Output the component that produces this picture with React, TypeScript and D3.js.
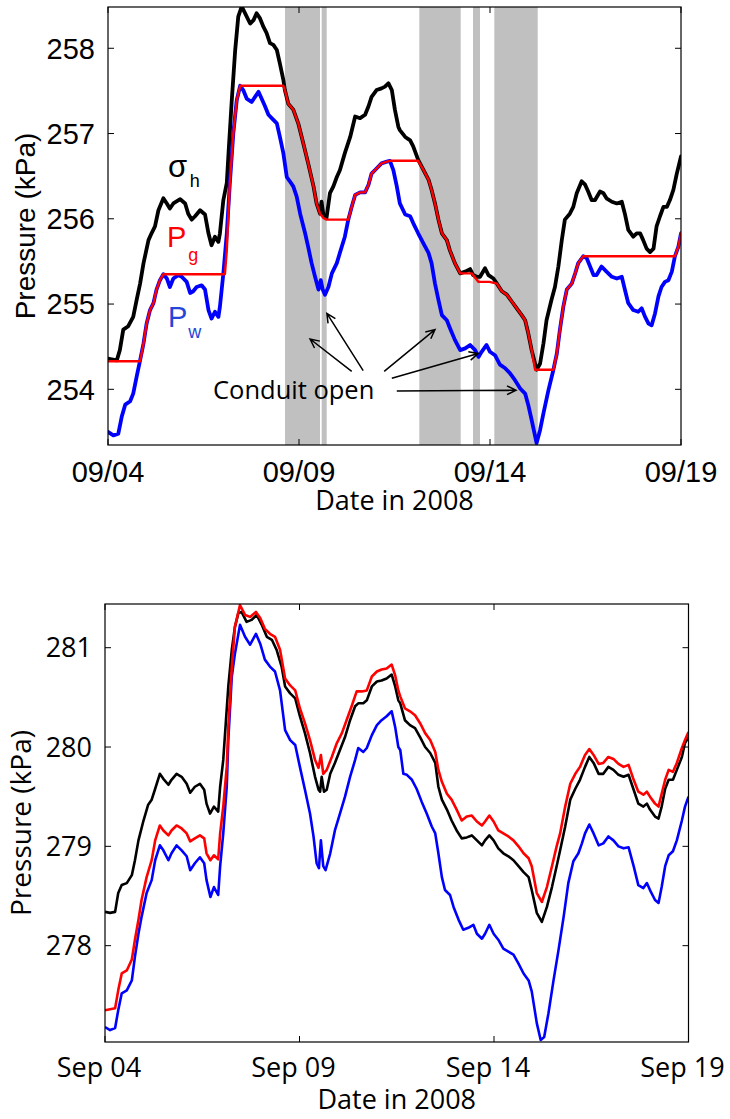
import React from 'react';
import * as d3 from 'd3';

// days since 2008-09-04 00:00, pressure in kPa
const dayTicks = [0, 5, 10, 15];
const topDayLabels = ['09/04', '09/09', '09/14', '09/19'];
const bottomDayLabels = ['Sep 04', 'Sep 09', 'Sep 14', 'Sep 19'];
const topPressureTicks = [254, 255, 256, 257, 258];
const bottomPressureTicks = [278, 279, 280, 281];

// shaded "conduit open" intervals (days)
const conduitOpen = [[4.634, 5.55], [5.594, 5.725], [8.15, 9.233], [9.555, 9.738], [10.113, 11.249]];

// top panel: sigma_h, P_w, P_g
const sigmaTop = [[0,254.36],[0.23,254.34],[0.31,254.46],[0.40,254.70],[0.53,254.74],[0.66,254.85],[0.75,255.05],[0.84,255.24],[0.93,255.48],[1.06,255.75],[1.14,255.83],[1.23,255.91],[1.32,256.10],[1.45,256.24],[1.54,256.18],[1.62,256.12],[1.71,256.18],[1.89,256.23],[2.02,256.18],[2.10,256.06],[2.19,255.99],[2.28,256.03],[2.41,256.10],[2.54,256.05],[2.63,255.83],[2.71,255.69],[2.80,255.79],[2.89,255.73],[2.93,255.83],[3.02,256.22],[3.11,256.42],[3.15,256.73],[3.24,257.39],[3.33,257.98],[3.41,258.37],[3.50,258.49],[3.59,258.41],[3.72,258.29],[3.81,258.33],[3.89,258.41],[3.98,258.35],[4.07,258.25],[4.15,258.18],[4.24,258.06],[4.33,258.04],[4.42,257.98],[4.50,257.82],[4.59,257.63],[4.63,257.51],[4.72,257.35],[4.85,257.28],[4.98,257.12],[5.11,256.89],[5.24,256.65],[5.38,256.38],[5.46,256.18],[5.55,256.06],[5.59,256.20],[5.64,256.04],[5.72,256.01],[5.81,256.30],[5.90,256.38],[5.99,256.49],[6.07,256.57],[6.20,256.77],[6.34,256.96],[6.47,257.20],[6.60,257.18],[6.73,257.22],[6.82,257.32],[6.90,257.43],[7.03,257.51],[7.16,257.53],[7.25,257.55],[7.34,257.59],[7.43,257.51],[7.51,257.28],[7.60,257.08],[7.64,257.04],[7.78,256.96],[7.91,256.92],[7.99,256.85],[8.12,256.69],[8.26,256.57],[8.39,256.46],[8.47,256.34],[8.56,256.18],[8.65,255.99],[8.74,255.83],[8.87,255.75],[8.95,255.63],[9.08,255.48],[9.22,255.36],[9.35,255.38],[9.48,255.41],[9.56,255.34],[9.65,255.32],[9.74,255.32],[9.87,255.42],[9.96,255.34],[10.09,255.30],[10.18,255.24],[10.31,255.15],[10.44,255.11],[10.57,255.03],[10.70,254.95],[10.83,254.87],[10.92,254.81],[11.00,254.66],[11.09,254.46],[11.22,254.23],[11.31,254.30],[11.40,254.54],[11.48,254.81],[11.61,255.05],[11.70,255.20],[11.79,255.44],[11.88,255.75],[11.96,255.99],[12.09,256.06],[12.18,256.14],[12.27,256.30],[12.40,256.44],[12.49,256.40],[12.57,256.32],[12.66,256.22],[12.75,256.22],[12.88,256.32],[12.97,256.30],[13.05,256.24],[13.19,256.20],[13.32,256.18],[13.45,256.20],[13.53,256.06],[13.62,255.87],[13.75,255.79],[13.84,255.83],[13.93,255.83],[14.01,255.75],[14.10,255.65],[14.19,255.61],[14.28,255.65],[14.36,255.91],[14.45,256.03],[14.54,256.14],[14.63,256.14],[14.71,256.22],[14.80,256.34],[14.89,256.53],[15.00,256.73]];

const waterTop = [[0,253.50],[0.14,253.46],[0.27,253.48],[0.36,253.68],[0.45,253.82],[0.58,253.86],[0.66,253.95],[0.75,254.15],[0.84,254.34],[0.93,254.54],[1.01,254.77],[1.10,254.93],[1.19,255.01],[1.27,255.17],[1.36,255.28],[1.45,255.35],[1.54,255.30],[1.62,255.20],[1.71,255.30],[1.84,255.34],[1.93,255.32],[2.06,255.26],[2.15,255.13],[2.23,255.15],[2.32,255.20],[2.45,255.22],[2.54,255.17],[2.63,254.93],[2.71,254.83],[2.80,254.91],[2.89,254.85],[2.93,254.97],[3.02,255.36],[3.11,255.83],[3.19,256.42],[3.28,257.00],[3.37,257.39],[3.46,257.56],[3.54,257.51],[3.63,257.41],[3.76,257.37],[3.85,257.43],[3.94,257.49],[4.02,257.41],[4.11,257.32],[4.20,257.22],[4.33,257.16],[4.42,257.12],[4.50,256.96],[4.59,256.77],[4.68,256.49],[4.76,256.44],[4.85,256.38],[4.94,256.26],[5.03,256.06],[5.16,255.83],[5.24,255.67],[5.33,255.48],[5.42,255.32],[5.51,255.17],[5.57,255.28],[5.62,255.17],[5.68,255.11],[5.77,255.20],[5.86,255.36],[5.99,255.48],[6.07,255.60],[6.20,255.79],[6.29,255.99],[6.38,256.14],[6.47,256.28],[6.60,256.31],[6.73,256.31],[6.82,256.40],[6.90,256.53],[7.03,256.59],[7.16,256.65],[7.30,256.67],[7.38,256.68],[7.47,256.57],[7.56,256.38],[7.64,256.18],[7.78,256.05],[7.91,256.03],[7.99,255.95],[8.12,255.83],[8.26,255.71],[8.39,255.60],[8.47,255.48],[8.56,255.24],[8.65,255.05],[8.74,254.87],[8.87,254.81],[8.95,254.72],[9.08,254.58],[9.22,254.46],[9.35,254.48],[9.48,254.52],[9.61,254.46],[9.70,254.38],[9.78,254.44],[9.91,254.52],[10.00,254.44],[10.13,254.40],[10.26,254.29],[10.39,254.25],[10.52,254.19],[10.65,254.11],[10.79,254.01],[10.92,253.95],[11.00,253.82],[11.09,253.64],[11.22,253.37],[11.31,253.52],[11.40,253.72],[11.53,253.99],[11.66,254.23],[11.75,254.42],[11.83,254.70],[11.92,254.97],[12.01,255.17],[12.14,255.24],[12.23,255.36],[12.31,255.48],[12.44,255.56],[12.53,255.54],[12.62,255.44],[12.71,255.34],[12.79,255.34],[12.92,255.44],[13.05,255.38],[13.19,255.32],[13.32,255.30],[13.45,255.32],[13.53,255.17],[13.62,255.01],[13.75,254.93],[13.88,254.91],[13.97,254.95],[14.06,254.85],[14.15,254.77],[14.23,254.75],[14.32,254.89],[14.41,255.09],[14.49,255.20],[14.58,255.26],[14.67,255.28],[14.76,255.38],[14.84,255.56],[14.93,255.67],[15.00,255.83]];

const gasTop = [[0,254.33],[0.84,254.33],[0.93,254.54],[1.01,254.77],[1.10,254.93],[1.19,255.01],[1.27,255.17],[1.36,255.28],[1.45,255.35],[3.06,255.35],[3.11,255.63],[3.19,256.42],[3.28,257.00],[3.37,257.39],[3.46,257.56],[4.59,257.56],[4.63,257.51],[4.72,257.35],[4.85,257.28],[4.98,257.12],[5.11,256.89],[5.24,256.65],[5.38,256.38],[5.46,256.18],[5.55,256.06],[5.64,256.01],[5.72,255.99],[6.29,255.99],[6.38,256.14],[6.47,256.28],[6.60,256.31],[6.73,256.31],[6.82,256.40],[6.90,256.53],[7.03,256.59],[7.16,256.65],[7.30,256.67],[7.38,256.68],[8.12,256.68],[8.26,256.57],[8.39,256.46],[8.47,256.34],[8.56,256.18],[8.65,255.99],[8.74,255.83],[8.87,255.75],[8.95,255.63],[9.08,255.48],[9.22,255.36],[9.52,255.36],[9.70,255.26],[9.99,255.26],[10.18,255.24],[10.31,255.15],[10.44,255.11],[10.57,255.03],[10.70,254.95],[10.83,254.87],[10.92,254.81],[11.00,254.66],[11.09,254.46],[11.18,254.23],[11.66,254.23],[11.75,254.42],[11.83,254.70],[11.92,254.97],[12.01,255.17],[12.14,255.24],[12.23,255.36],[12.31,255.48],[12.44,255.56],[14.84,255.56],[14.93,255.67],[15.00,255.83]];

// bottom panel
const sigmaBottom = [[0,278.34],[0.13,278.33],[0.26,278.34],[0.34,278.53],[0.43,278.61],[0.56,278.63],[0.69,278.71],[0.77,278.86],[0.86,279.06],[0.99,279.26],[1.11,279.42],[1.20,279.47],[1.29,279.58],[1.41,279.73],[1.50,279.68],[1.63,279.62],[1.71,279.67],[1.84,279.73],[1.97,279.70],[2.10,279.63],[2.19,279.54],[2.31,279.60],[2.44,279.63],[2.55,279.57],[2.61,279.43],[2.70,279.33],[2.80,279.40],[2.91,279.35],[2.96,279.60],[3.04,279.87],[3.11,280.27],[3.17,280.61],[3.26,280.98],[3.34,281.21],[3.43,281.35],[3.51,281.36],[3.64,281.26],[3.77,281.28],[3.90,281.33],[4.03,281.23],[4.16,281.11],[4.29,281.08],[4.41,280.98],[4.54,280.81],[4.63,280.61],[4.76,280.54],[4.89,280.49],[5.01,280.31],[5.14,280.14],[5.27,279.94],[5.40,279.70],[5.49,279.57],[5.53,279.55],[5.57,279.70],[5.63,279.55],[5.70,279.57],[5.79,279.73],[5.91,279.84],[6.04,279.97],[6.17,280.10],[6.30,280.27],[6.43,280.41],[6.51,280.44],[6.64,280.44],[6.73,280.47],[6.86,280.61],[6.99,280.66],[7.11,280.67],[7.24,280.69],[7.37,280.73],[7.46,280.61],[7.54,280.47],[7.59,280.44],[7.71,280.27],[7.84,280.22],[7.97,280.19],[8.10,280.10],[8.23,280.00],[8.36,279.94],[8.49,279.84],[8.57,279.60],[8.66,279.47],[8.79,279.37],[8.91,279.26],[9.04,279.16],[9.17,279.08],[9.30,279.09],[9.43,279.11],[9.56,279.06],[9.69,279.01],[9.77,279.06],[9.88,279.11],[9.99,279.06],[10.11,278.98],[10.24,278.93],[10.37,278.90],[10.50,278.86],[10.63,278.80],[10.76,278.74],[10.89,278.69],[10.97,278.56],[11.10,278.33],[11.23,278.24],[11.36,278.39],[11.49,278.59],[11.61,278.80],[11.70,278.96],[11.83,279.20],[11.96,279.47],[12.09,279.58],[12.21,279.67],[12.34,279.80],[12.45,279.90],[12.56,279.84],[12.69,279.73],[12.81,279.73],[12.94,279.80],[13.07,279.77],[13.20,279.72],[13.33,279.70],[13.46,279.72],[13.59,279.57],[13.71,279.43],[13.84,279.40],[13.93,279.43],[14.01,279.37],[14.14,279.30],[14.23,279.28],[14.31,279.40],[14.40,279.58],[14.49,279.67],[14.60,279.67],[14.70,279.77],[14.83,279.90],[14.91,280.04],[15.00,280.10]];

const gasBottom = [[0,277.35],[0.26,277.37],[0.34,277.55],[0.43,277.72],[0.56,277.75],[0.69,277.86],[0.77,278.06],[0.86,278.26],[0.94,278.46],[1.07,278.69],[1.20,278.86],[1.29,279.06],[1.41,279.21],[1.50,279.16],[1.63,279.11],[1.71,279.16],[1.84,279.21],[1.97,279.18],[2.10,279.13],[2.19,279.05],[2.31,279.08],[2.44,279.11],[2.55,279.08],[2.61,278.93],[2.71,278.86],[2.80,278.91],[2.91,278.87],[2.96,279.13],[3.04,279.40],[3.13,279.80],[3.17,280.20],[3.26,280.81],[3.34,281.21],[3.47,281.43],[3.60,281.33],[3.73,281.31],[3.88,281.36],[3.99,281.30],[4.11,281.19],[4.24,281.14],[4.37,281.11],[4.50,280.98],[4.63,280.69],[4.76,280.62],[4.89,280.57],[5.01,280.39],[5.14,280.24],[5.27,280.07],[5.40,279.87],[5.49,279.79],[5.55,279.92],[5.61,279.73],[5.70,279.77],[5.83,279.90],[5.96,280.04],[6.09,280.14],[6.21,280.27],[6.34,280.41],[6.47,280.56],[6.60,280.56],[6.73,280.57],[6.86,280.71],[6.99,280.76],[7.11,280.78],[7.24,280.79],[7.37,280.83],[7.46,280.72],[7.54,280.57],[7.59,280.51],[7.71,280.39],[7.84,280.36],[7.97,280.32],[8.10,280.24],[8.23,280.14],[8.36,280.07],[8.49,279.95],[8.57,279.77],[8.66,279.65],[8.79,279.53],[8.91,279.47],[9.04,279.37],[9.17,279.26],[9.30,279.30],[9.43,279.31],[9.56,279.25],[9.69,279.21],[9.77,279.25],[9.88,279.31],[9.99,279.25],[10.11,279.16],[10.24,279.13],[10.37,279.10],[10.50,279.06],[10.63,279.00],[10.76,278.93],[10.89,278.88],[10.97,278.80],[11.10,278.53],[11.23,278.44],[11.36,278.59],[11.49,278.80],[11.61,279.00],[11.70,279.13],[11.83,279.40],[11.96,279.63],[12.09,279.73],[12.21,279.80],[12.34,279.92],[12.45,279.98],[12.56,279.92],[12.69,279.83],[12.81,279.84],[12.94,279.90],[13.07,279.88],[13.20,279.83],[13.33,279.80],[13.46,279.82],[13.59,279.67],[13.71,279.55],[13.84,279.52],[13.93,279.55],[14.01,279.50],[14.14,279.43],[14.23,279.40],[14.31,279.53],[14.40,279.67],[14.49,279.77],[14.60,279.75],[14.70,279.84],[14.83,279.99],[14.91,280.07],[15.00,280.15]];

const waterBottom = [[0,277.18],[0.13,277.15],[0.26,277.17],[0.34,277.35],[0.43,277.52],[0.56,277.55],[0.69,277.65],[0.77,277.89],[0.86,278.12],[0.94,278.29],[1.07,278.53],[1.20,278.66],[1.29,278.86],[1.41,279.01],[1.50,278.96],[1.63,278.86],[1.71,278.93],[1.84,279.01],[1.97,278.96],[2.10,278.90],[2.19,278.76],[2.31,278.83],[2.44,278.89],[2.55,278.83],[2.61,278.66],[2.71,278.49],[2.80,278.59],[2.91,278.51],[2.96,278.80],[3.04,279.13],[3.13,279.60],[3.17,280.07],[3.26,280.71],[3.34,280.94],[3.47,281.23],[3.60,281.11],[3.73,281.03],[3.88,281.14],[3.99,281.04],[4.11,280.88],[4.24,280.81],[4.37,280.76],[4.50,280.57],[4.63,280.17],[4.76,280.07],[4.89,280.02],[5.01,279.80],[5.14,279.57],[5.27,279.33],[5.36,279.10],[5.44,278.83],[5.50,278.78],[5.55,279.06],[5.61,278.80],[5.67,278.76],[5.79,278.93],[5.91,279.16],[6.04,279.33],[6.17,279.50],[6.30,279.70],[6.43,279.87],[6.51,279.99],[6.64,279.95],[6.73,279.99],[6.86,280.12],[6.99,280.22],[7.11,280.27],[7.24,280.31],[7.37,280.36],[7.46,280.20],[7.54,280.00],[7.59,279.97],[7.67,279.73],[7.76,279.72],[7.89,279.67],[8.01,279.58],[8.14,279.45],[8.27,279.33],[8.40,279.20],[8.49,279.13],[8.57,278.93],[8.66,278.69],[8.74,278.56],[8.87,278.51],[8.96,278.39],[9.09,278.26],[9.21,278.16],[9.34,278.18],[9.47,278.21],[9.56,278.12],[9.69,278.07],[9.77,278.12],[9.88,278.21],[9.99,278.12],[10.11,278.06],[10.24,277.97],[10.37,277.94],[10.50,277.91],[10.63,277.82],[10.76,277.72],[10.89,277.65],[10.97,277.54],[11.10,277.22],[11.20,277.05],[11.29,277.08],[11.40,277.32],[11.53,277.65],[11.66,277.96],[11.79,278.29],[11.91,278.63],[12.04,278.85],[12.17,278.93],[12.26,279.03],[12.34,279.13],[12.45,279.22],[12.56,279.13],[12.69,279.01],[12.81,279.03],[12.94,279.10],[13.07,279.06],[13.20,279.00],[13.33,278.98],[13.46,278.99],[13.59,278.80],[13.71,278.61],[13.84,278.58],[13.93,278.63],[14.01,278.56],[14.14,278.46],[14.23,278.43],[14.31,278.59],[14.40,278.80],[14.49,278.91],[14.60,278.95],[14.70,279.06],[14.83,279.26],[14.91,279.40],[15.00,279.50]];

// annotation arrows: [tailDay, tailKPa, headDay, headKPa]
const conduitArrows = [
  [6.38, 254.21, 5.29, 254.59],
  [6.68, 254.22, 5.73, 254.89],
  [7.23, 254.21, 8.56, 254.70],
  [7.43, 254.13, 9.69, 254.42],
  [7.56, 253.98, 10.68, 253.99],
];

const W = 730;
const H = 1119;
const arialFont = '"Liberation Sans", Arial, sans-serif';
const myriadFont = '"Open Sans", "DejaVu Sans", sans-serif';

const Frame = ({ x, y, xLabels, yTicks, tickFont, tickSize, xLabelShift, xLabelY, dateY, ylabelX, ylabelFont }) => {
  const [x0, x1] = x.range();
  const [y0, y1] = y.range();
  const tl = 6;
  return (
    <g>
      <rect x={x0} y={y1} width={x1 - x0} height={y0 - y1} fill="none" stroke="#000" strokeWidth={1.2} />
      {dayTicks.map((d, i) => (
        <g key={'xt' + i}>
          <line x1={x(d)} x2={x(d)} y1={y0} y2={y0 - tl} stroke="#000" strokeWidth={1} />
          <line x1={x(d)} x2={x(d)} y1={y1} y2={y1 + tl} stroke="#000" strokeWidth={1} />
          <text x={x(d) + xLabelShift} y={xLabelY} textAnchor="middle" fontFamily={tickFont} fontSize={tickSize}>
            {xLabels[i]}
          </text>
        </g>
      ))}
      {yTicks.map((v) => (
        <g key={'yt' + v}>
          <line x1={x0} x2={x0 + tl} y1={y(v)} y2={y(v)} stroke="#000" strokeWidth={1} />
          <line x1={x1} x2={x1 - tl} y1={y(v)} y2={y(v)} stroke="#000" strokeWidth={1} />
          <text x={x0 - 13} y={y(v)} dy="0.36em" textAnchor="end" fontFamily={tickFont} fontSize={tickSize}>
            {v}
          </text>
        </g>
      ))}
      <text x={(x0 + x1) / 2} y={dateY} textAnchor="middle" fontFamily={myriadFont} fontSize={27}>
        Date in 2008
      </text>
      <text
        transform={`translate(${ylabelX},${(y0 + y1) / 2}) rotate(-90)`}
        textAnchor="middle"
        fontFamily={ylabelFont}
        fontSize={28}
      >
        Pressure (kPa)
      </text>
    </g>
  );
};

export default function App() {
  // top panel scales
  const xTop = d3.scaleLinear().domain([0, 15]).range([108, 681]);
  const yTop = d3.scaleLinear().domain([253.347, 258.484]).range([445, 7]);
  // bottom panel scales
  const xBot = d3.scaleLinear().domain([0, 15]).range([105, 688.5]);
  const yBot = d3.scaleLinear().domain([277.03, 281.44]).range([1042, 604]);

  const lineTop = d3.line().x((d) => xTop(d[0])).y((d) => yTop(d[1]));
  const lineBot = d3.line().x((d) => xBot(d[0])).y((d) => yBot(d[1]));

  const arrowPath = (a) => {
    const tx = xTop(a[0]), ty = yTop(a[1]), hx = xTop(a[2]), hy = yTop(a[3]);
    const ang = Math.atan2(hy - ty, hx - tx);
    const L = 10, spread = 0.45;
    const p1 = [hx - L * Math.cos(ang - spread), hy - L * Math.sin(ang - spread)];
    const p2 = [hx - L * Math.cos(ang + spread), hy - L * Math.sin(ang + spread)];
    return `M${tx},${ty}L${hx},${hy}M${p1[0]},${p1[1]}L${hx},${hy}L${p2[0]},${p2[1]}`;
  };

  return (
    <svg
      width={W}
      height={H}
      viewBox={`0 0 ${W} ${H}`}
      style={{ position: 'absolute', left: 0, top: 0, background: '#fff' }}
    >
      <defs>
        <clipPath id="clipTop">
          <rect x={108} y={7} width={573} height={438} />
        </clipPath>
        <clipPath id="clipBot">
          <rect x={105} y={604} width={583.5} height={438} />
        </clipPath>
      </defs>

      {/* top panel */}
      <g clipPath="url(#clipTop)">
        {conduitOpen.map((b, i) => (
          <rect key={i} x={xTop(b[0])} y={7} width={xTop(b[1]) - xTop(b[0])} height={438} fill="#c0c0c0" />
        ))}
        <g fill="none" strokeLinejoin="round" strokeLinecap="round">
          <path d={lineTop(sigmaTop)} stroke="#000" strokeWidth={3.8} />
          <path d={lineTop(waterTop)} stroke="#0000ff" strokeWidth={3.8} />
          <path d={lineTop(gasTop)} stroke="#ff0000" strokeWidth={2.4} />
        </g>
      </g>
      <Frame
        x={xTop}
        y={yTop}
        xLabels={topDayLabels}
        yTicks={topPressureTicks}
        tickFont={arialFont}
        tickSize={29}
        xLabelShift={0}
        xLabelY={482}
        dateY={510}
        ylabelX={35}
        ylabelFont={arialFont}
      />
      <g fontFamily={arialFont}>
        <text x={xTop(1.571)} y={yTop(256.49)} fontSize={31} fill="#000">σ</text>
        <text x={xTop(2.14)} y={yTop(256.37)} fontSize={18} fill="#000">h</text>
        <text x={xTop(1.545)} y={yTop(255.67)} fontSize={29} fill="#ff0000">P</text>
        <text x={xTop(2.1)} y={yTop(255.51)} fontSize={18} fill="#ff0000">g</text>
        <text x={xTop(1.571)} y={yTop(254.73)} fontSize={29} fill="#2346d8">P</text>
        <text x={xTop(2.1)} y={yTop(254.60)} fontSize={18} fill="#2346d8">w</text>
      </g>
      <text x={xTop(2.749)} y={yTop(253.89)} fontFamily={myriadFont} fontSize={25.5} fill="#000">
        Conduit open
      </text>
      <g fill="none" stroke="#000" strokeWidth={1.5}>
        {conduitArrows.map((a, i) => (
          <path key={i} d={arrowPath(a)} />
        ))}
      </g>

      {/* bottom panel */}
      <g clipPath="url(#clipBot)" fill="none" strokeLinejoin="round">
        <path d={lineBot(waterBottom)} stroke="#0000ff" strokeWidth={2.6} />
        <path d={lineBot(sigmaBottom)} stroke="#000" strokeWidth={2.6} />
        <path d={lineBot(gasBottom)} stroke="#ff0000" strokeWidth={2.6} />
      </g>
      <Frame
        x={xBot}
        y={yBot}
        xLabels={bottomDayLabels}
        yTicks={bottomPressureTicks}
        tickFont={myriadFont}
        tickSize={27}
        xLabelShift={-6}
        xLabelY={1077}
        dateY={1109}
        ylabelX={31}
        ylabelFont={myriadFont}
      />
    </svg>
  );
}
